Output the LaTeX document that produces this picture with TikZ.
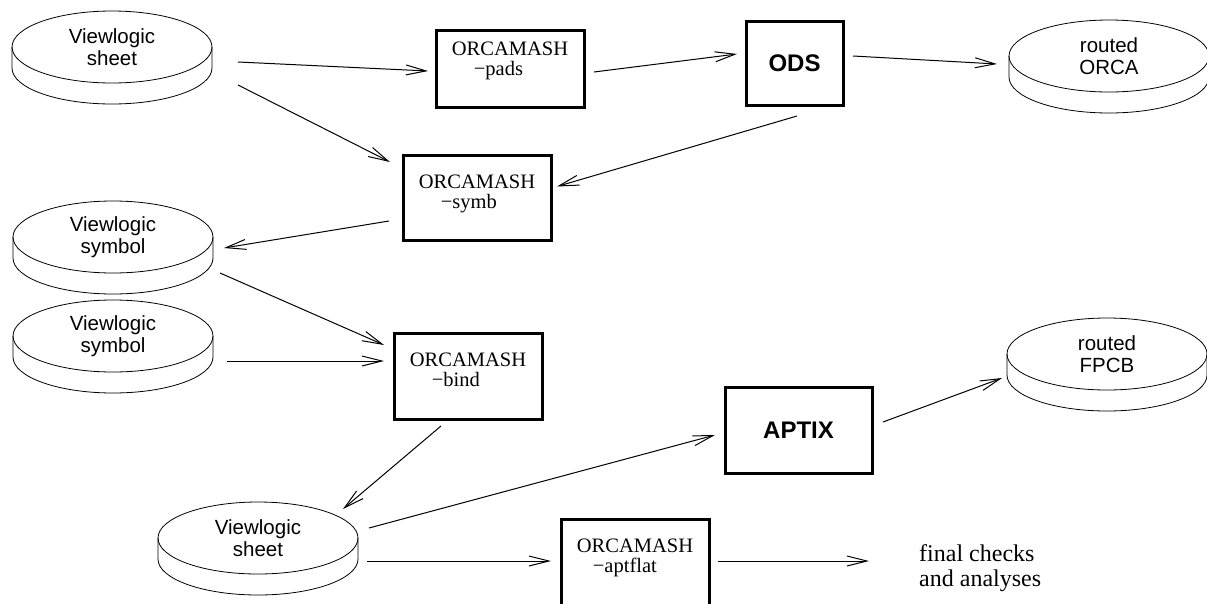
\documentclass[tikz,border=0pt]{standalone}
\usepackage{fontspec}
\setmainfont{Liberation Serif}
\setsansfont{Liberation Sans}
\usetikzlibrary{arrows.meta,shapes.geometric}

% lower rim of a disk node
\newcommand{\diskrim}[1]{%
  \draw[rim] (#1.west) -- ++(0,21)
    arc[start angle=180,end angle=360,x radius=100pt,y radius=36pt] -- (#1.east);}

\begin{document}
\begin{tikzpicture}[x=1pt,y=-1pt]

    \tikzset{disk/.style = {shape=ellipse,draw,line width=0.8pt,minimum width=200pt,minimum height=72pt,inner sep=0pt,outer sep=0pt,align=center,font=\sffamily\fontsize{20.5}{22}\selectfont}}
    \tikzset{rim/.style = {line width=0.8pt}}
    \tikzset{tool/.style = {shape=rectangle,draw,line width=3pt,minimum width=148pt,minimum height=85pt,inner sep=0pt,outer sep=0pt,align=left,font=\fontsize{20.5}{20}\selectfont}}
    \tikzset{bigtool/.style = {tool,font=\sffamily\bfseries\fontsize{24}{26}\selectfont}}
    \tikzset{link/.style = {-{Straight Barb[length=20pt,width=10pt]},line width=1pt}}

    \useasboundingbox (0,0) rectangle (1207,603);
    \clip (0,0) rectangle (1207,603);

    \node[disk] (sheetA) at (112,47) {Viewlogic\\sheet};
    \node[disk] (orca) at (1109,56) {routed\\ORCA};
    \node[disk] (symbolA) at (113,237) {Viewlogic\\symbol};
    \node[disk] (symbolB) at (113,336) {Viewlogic\\symbol};
    \node[disk] (fpcb) at (1107,354) {routed\\FPCB};
    \node[disk] (sheetB) at (258,538) {Viewlogic\\sheet};
    \diskrim{sheetA}
    \diskrim{orca}
    \diskrim{symbolA}
    \diskrim{symbolB}
    \diskrim{fpcb}
    \diskrim{sheetB}

    \node[tool,minimum height=77pt] (pads) at (510,68.5) {ORCAMASH\\\hspace*{22pt}−pads\\[0pt]\mbox{}};
    \node[bigtool,minimum width=97pt,minimum height=84pt] (ods) at (794.5,63) {ODS};
    \node[tool] (symb) at (477,197.5) {ORCAMASH\\\hspace*{22pt}−symb\\[-8pt]\mbox{}};
    \node[tool,minimum height=86pt] (bind) at (468,376) {ORCAMASH\\\hspace*{22pt}−bind\\[-8pt]\mbox{}};
    \node[bigtool,minimum width=147pt,minimum height=86pt] (aptix) at (798.5,430) {APTIX};
    \node[tool,minimum height=86pt] (aptflat) at (635,562) {ORCAMASH\\\hspace*{16pt}−aptflat\\[-8pt]\mbox{}};
    \node[anchor=west,inner sep=0pt,align=left,font=\fontsize{24}{25}\selectfont] (checks) at (919,568) {final checks\\and analyses};

    \draw[link] ([shift={(26,15)}]sheetA.east) -- ([shift={(-8,2.5)}]pads.west);
    \draw[link] ([shift={(26,38)}]sheetA.east) -- ([shift={(-13,7)}]symb.north west);
    \draw[link] ([shift={(10,3.5)}]pads.east) -- ([shift={(-9,-9)}]ods.west);
    \draw[link] ([shift={(10,-7)}]ods.east) -- ([shift={(-12,8)}]orca.west);
    \draw[link] ([shift={(2.5,11)}]ods.south) -- ([shift={(6,-11)}]symb.east);
    \draw[link] ([shift={(-14,23.5)}]symb.west) -- ([shift={(11,11)}]symbolA.east);
    \draw[link] ([shift={(7,36)}]symbolA.east) -- ([shift={(-10,-31)}]bind.west);
    \draw[link] ([shift={(14,25)}]symbolB.east) -- ([shift={(-10,-15)}]bind.west);
    \draw[link] ([shift={(-27,7)}]bind.south) -- ([shift={(-15,-29)}]sheetB.east);
    \draw[link] ([shift={(11,-10)}]sheetB.east) -- ([shift={(-10,5)}]aptix.west);
    \draw[link] ([shift={(11,-8)}]aptix.east) -- ([shift={(-5,24)}]fpcb.west);
    \draw[link] ([shift={(9,23)}]sheetB.east) -- ([shift={(-10,-1)}]aptflat.west);
    \draw[link] ([shift={(9,-1)}]aptflat.east) -- ([shift={(-50,-7)}]checks.west);

\end{tikzpicture}
\end{document}
